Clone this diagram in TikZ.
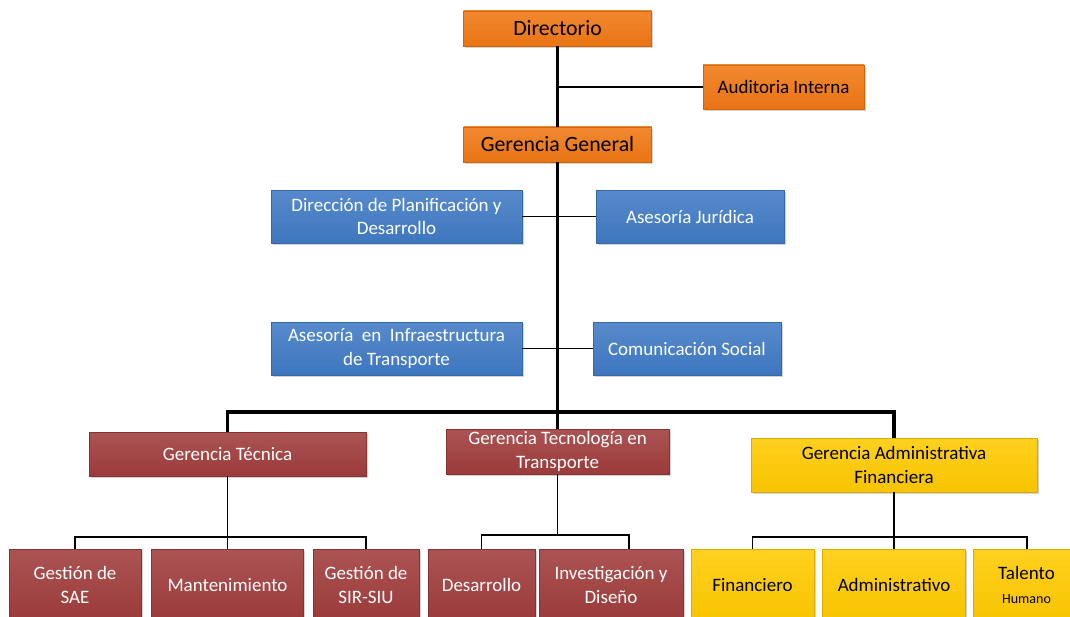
\documentclass[tikz,border=0pt]{standalone}
\usepackage{fontspec}
\setmainfont{Carlito}
\usepackage{tikz}
\usetikzlibrary{shadows}
\definecolor{orangefill}{RGB}{240,120,20}
\definecolor{bluefill}{RGB}{64,122,196}
\definecolor{redfill}{RGB}{160,60,60}
\definecolor{yellowfill}{RGB}{255,202,0}

\begin{document}
\begin{tikzpicture}[x=0.025cm,y=-0.025cm,
  bx/.style 2 args={minimum width=#1*0.025cm,minimum height=#2*0.025cm},
  unitbox/.style={draw=#1!85!black,line width=0.3pt,top color=#1!88!white,bottom color=#1!97!black,
    align=center,inner sep=0pt,font=\fontsize{13.5}{16.5}\selectfont,
    drop shadow={shadow xshift=1.4pt,shadow yshift=-1.4pt,opacity=0.35}},
  orangeunit/.style={unitbox=orangefill,text=black},
  blueunit/.style={unitbox=bluefill,text=white},
  redunit/.style={unitbox=redfill,text=white},
  yellowunit/.style={unitbox=yellowfill,text=black},
  bigtext/.style={font=\fontsize{15.5}{18}\selectfont},
  mainline/.style={line width=2.8pt},
  sideline/.style={line width=1pt},
  subline/.style={line width=1.4pt}]
\useasboundingbox (0,0) rectangle (1070,617);
\clip (0,0) rectangle (1070,617);
% upper levels
\node[orangeunit,bigtext,bx={188}{35}] (dir) at (557.5,28.5) {Directorio};
\node[orangeunit,bx={161}{44}] (aud) at (783.5,87) {Auditoria Interna};
\node[orangeunit,bigtext,bx={188}{35}] (gg) at (557.5,144.5) {Gerencia General};
\node[blueunit,bx={251}{53}] (plan) at (396.5,216.5) {Dirección de Planificación y\\Desarrollo};
\node[blueunit,bx={188}{53}] (jur) at (690,216.5) {Asesoría Jurídica};
\node[blueunit,bx={251}{53}] (infra) at (396.5,348.5) {Asesoría\ \ en\ \ Infraestructura\\de Transporte};
\node[blueunit,bx={188}{53}] (com) at (687,348.5) {Comunicación Social};
% gerencias
\node[redunit,bx={277}{44}] (gtec) at (227.5,454) {Gerencia Técnica};
\node[redunit,bx={223}{45}] (gtt) at (557.5,451.5) {Gerencia Tecnología en\\Transporte};
\node[yellowunit,bx={286}{54}] (gaf) at (894,465) {Gerencia Administrativa\\Financiera};
% departamentos
\node[redunit,bx={132}{72}] (sae) at (75,585) {Gestión de\\SAE};
\node[redunit,bx={152}{72}] (mant) at (227.5,585) {Mantenimiento};
\node[redunit,bx={106}{72}] (sir) at (366,585) {Gestión de\\SIR-SIU};
\node[redunit,bx={107}{72}] (des) at (481.5,585) {Desarrollo};
\node[redunit,bx={144}{72}] (inv) at (611,585) {Investigación y\\Diseño};
\node[yellowunit,bx={123}{72}] (fin) at (752.5,585) {Financiero};
\node[yellowunit,bx={143}{72}] (adm) at (894,585) {Administrativo};
\node[yellowunit,bx={107}{72}] (tal) at (1026.5,585) {Talento\\{\fontsize{10}{12}\selectfont Humano}};
% buses
\coordinate (bus) at (557.5,412);
\coordinate (busT) at (0,537);
\coordinate (busG) at (0,535);
\coordinate (busA) at (0,537);
\coordinate (invtop) at (629,549);
% connectors
\draw[mainline] (dir) -- (gg);
\draw[mainline] (gg) -- (gtt);
\draw[mainline] (gtec.north) |- (bus) -| (gaf.north);
\draw[sideline] (aud.west) -- (aud.west -| dir.south);
\draw[sideline] (plan) -- (jur);
\draw[sideline] (infra) -- (com);
\draw[subline] (gtec) -- (mant);
\draw[subline] (sae.north) |- (busT -| gtec.south) -| (sir.north);
\draw[subline] (gtt.south) -- (gtt.south |- busG);
\draw[subline] (des.north) |- (invtop |- busG) -- (invtop);
\draw[subline] (gaf) -- (adm);
\draw[subline] (fin.north) |- (busA -| gaf.south) -| (tal.north);
\end{tikzpicture}
\end{document}
